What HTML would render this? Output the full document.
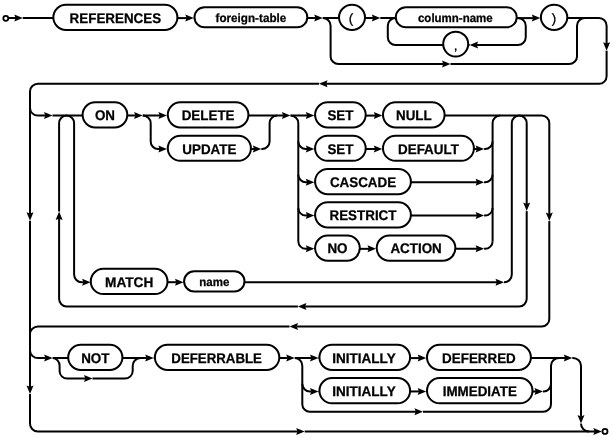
<!DOCTYPE html>
<html><head><meta charset="utf-8"><title>foreign-key-clause</title>
<style>
html,body{margin:0;padding:0;background:#fff;}
svg{display:block}
path{fill:none;stroke:#000;stroke-width:2.0;stroke-linecap:butt;stroke-linejoin:round}
.b{fill:#fff;stroke:#000;stroke-width:2.0}
.a{fill:#000;stroke:none}
.m{fill:#fff;stroke:none}
.p{font-weight:normal;stroke:#000;stroke-width:.3}
text{text-rendering:geometricPrecision;font-family:"Liberation Sans",sans-serif;font-weight:bold;text-anchor:middle;fill:#000;stroke:#000;stroke-width:.25}
</style></head><body>
<svg width="613" height="438" viewBox="0 0 613 438" style="will-change:transform;transform:translateZ(0);filter:blur(0.25px)">
<rect x="0" y="0" width="613" height="438" fill="#fff"/>
<path d="M8.50 18.10H54.00"/>
<path d="M177.40 18.10H194.50"/>
<path d="M307.30 18.10H340.00"/>
<path d="M322.70 18.10A7.90 7.60 0 0 1 330.60 25.70V56.40A8.00 7.60 0 0 0 338.60 64.00H569.00A8.00 7.60 0 0 0 577.00 56.40V25.70A8.00 7.60 0 0 1 585.00 18.10"/>
<path d="M364.60 18.10H396.50"/>
<path d="M516.70 18.10H541.00"/>
<path d="M517.80 18.10A7.95 7.60 0 0 1 525.75 25.70V37.30A7.95 7.60 0 0 1 517.80 44.90H468.20"/>
<path d="M443.20 44.90H395.60A7.80 7.60 0 0 1 387.80 37.30V25.70A7.80 7.60 0 0 1 395.60 18.10"/>
<path d="M567.30 18.10H599.00A7.60 7.60 0 0 1 606.60 25.70V76.25A7.60 7.60 0 0 1 599.00 83.85H38.00A8.00 7.60 0 0 0 30.00 91.45V423.85A8.00 7.60 0 0 0 38.00 431.45H602.50"/>
<path d="M30.00 108.00A8.00 7.60 0 0 0 38.00 115.60H83.00"/>
<path d="M127.30 115.60H168.00"/>
<path d="M142.60 115.60A8.10 7.60 0 0 1 150.70 123.20V141.40A7.30 7.60 0 0 0 158.00 149.00H168.00"/>
<path d="M248.30 115.60H315.50"/>
<path d="M251.30 149.00H262.00A7.60 7.60 0 0 0 269.60 141.40V123.20A7.60 7.60 0 0 1 277.20 115.60"/>
<path d="M290.40 115.60A7.90 7.60 0 0 1 298.30 123.20V241.25A7.60 7.60 0 0 0 305.90 248.85H315.50"/>
<path d="M298.30 141.40A7.60 7.60 0 0 0 305.90 149.00H315.50"/>
<path d="M298.30 174.70A7.60 7.60 0 0 0 305.90 182.30H315.50"/>
<path d="M298.30 208.00A7.60 7.60 0 0 0 305.90 215.60H315.50"/>
<path d="M365.30 115.60H383.00"/>
<path d="M365.30 149.00H383.00"/>
<path d="M359.80 248.85H378.00"/>
<path d="M473.90 149.00H485.00A7.60 7.60 0 0 0 492.60 141.40"/>
<path d="M410.90 182.30H485.00A7.60 7.60 0 0 0 492.60 174.70"/>
<path d="M410.90 215.60H485.00A7.60 7.60 0 0 0 492.60 208.00"/>
<path d="M455.40 248.85H485.00A7.60 7.60 0 0 0 492.60 241.25"/>
<path d="M492.60 241.25V123.20A7.60 7.60 0 0 1 500.20 115.60"/>
<path d="M444.60 115.60H541.70A7.60 7.60 0 0 1 549.30 123.20V318.90A7.60 7.60 0 0 1 541.70 326.50H38.00A8.00 7.60 0 0 0 30.00 334.10"/>
<path d="M519.10 115.60A7.60 7.60 0 0 1 526.70 123.20V298.80A7.60 7.60 0 0 1 519.10 306.40H66.70A7.60 7.60 0 0 1 59.10 298.80V123.20A7.60 7.60 0 0 1 66.70 115.60"/>
<path d="M66.50 115.60A7.60 7.60 0 0 1 74.10 123.20V274.60A7.60 7.60 0 0 0 81.70 282.20H92.00"/>
<path d="M167.30 282.20H185.00"/>
<path d="M244.50 282.20H504.20A7.60 7.60 0 0 0 511.80 274.60V123.20A7.60 7.60 0 0 1 519.40 115.60"/>
<path d="M30.00 350.50A8.00 7.60 0 0 0 38.00 358.10H69.00"/>
<path d="M122.40 358.10H155.50"/>
<path d="M52.60 358.10A7.00 7.60 0 0 1 59.60 365.70V371.00A7.60 7.60 0 0 0 67.20 378.60H124.70A8.00 7.60 0 0 0 132.70 371.00V365.70A8.00 7.60 0 0 1 140.70 358.10"/>
<path d="M279.30 358.10H320.00"/>
<path d="M294.70 358.10A7.60 7.60 0 0 1 302.30 365.70V404.20A7.60 7.60 0 0 0 309.90 411.80H543.00A8.00 7.60 0 0 0 551.00 404.20V365.70A8.00 7.60 0 0 1 559.00 358.10"/>
<path d="M302.30 383.85A7.60 7.60 0 0 0 309.90 391.45H320.00"/>
<path d="M409.80 358.10H428.00"/>
<path d="M409.80 391.45H428.00"/>
<path d="M532.50 391.45H543.50A7.50 7.60 0 0 0 551.00 383.85"/>
<path d="M530.90 358.10H573.00A8.00 7.60 0 0 1 581.00 365.70V423.85A8.00 7.60 0 0 0 589.00 431.45"/>
<rect class="m" x="15.90" y="16.50" width="6.90" height="3.20"/>
<rect class="m" x="186.90" y="16.50" width="6.90" height="3.20"/>
<rect class="m" x="315.80" y="16.50" width="6.90" height="3.20"/>
<rect class="m" x="443.60" y="62.40" width="6.90" height="3.20"/>
<rect class="m" x="373.40" y="16.50" width="6.90" height="3.20"/>
<rect class="m" x="533.40" y="16.50" width="6.90" height="3.20"/>
<rect class="m" x="469.60" y="43.30" width="6.90" height="3.20"/>
<rect class="m" x="605.00" y="43.80" width="3.20" height="6.90"/>
<rect class="m" x="319.00" y="82.25" width="6.90" height="3.20"/>
<rect class="m" x="28.40" y="213.90" width="3.20" height="6.90"/>
<rect class="m" x="28.40" y="387.10" width="3.20" height="6.90"/>
<rect class="m" x="297.80" y="429.85" width="6.90" height="3.20"/>
<rect class="m" x="45.60" y="114.00" width="6.90" height="3.20"/>
<rect class="m" x="135.70" y="114.00" width="6.90" height="3.20"/>
<rect class="m" x="160.00" y="114.00" width="6.90" height="3.20"/>
<rect class="m" x="160.00" y="147.40" width="6.90" height="3.20"/>
<rect class="m" x="283.50" y="114.00" width="6.90" height="3.20"/>
<rect class="m" x="307.40" y="114.00" width="6.90" height="3.20"/>
<rect class="m" x="254.40" y="147.40" width="6.90" height="3.20"/>
<rect class="m" x="307.40" y="147.40" width="6.90" height="3.20"/>
<rect class="m" x="307.40" y="180.70" width="6.90" height="3.20"/>
<rect class="m" x="307.40" y="214.00" width="6.90" height="3.20"/>
<rect class="m" x="307.40" y="247.25" width="6.90" height="3.20"/>
<rect class="m" x="375.40" y="114.00" width="6.90" height="3.20"/>
<rect class="m" x="375.40" y="147.40" width="6.90" height="3.20"/>
<rect class="m" x="369.10" y="247.25" width="6.90" height="3.20"/>
<rect class="m" x="477.20" y="147.40" width="6.90" height="3.20"/>
<rect class="m" x="477.20" y="180.70" width="6.90" height="3.20"/>
<rect class="m" x="477.20" y="214.00" width="6.90" height="3.20"/>
<rect class="m" x="477.20" y="247.25" width="6.90" height="3.20"/>
<rect class="m" x="547.70" y="214.20" width="3.20" height="6.90"/>
<rect class="m" x="289.50" y="324.90" width="6.90" height="3.20"/>
<rect class="m" x="525.10" y="204.20" width="3.20" height="6.90"/>
<rect class="m" x="297.90" y="304.80" width="6.90" height="3.20"/>
<rect class="m" x="57.50" y="211.50" width="3.20" height="6.90"/>
<rect class="m" x="83.70" y="280.60" width="6.90" height="3.20"/>
<rect class="m" x="176.60" y="280.60" width="6.90" height="3.20"/>
<rect class="m" x="497.10" y="280.60" width="6.90" height="3.20"/>
<rect class="m" x="45.70" y="356.50" width="6.90" height="3.20"/>
<rect class="m" x="146.80" y="356.50" width="6.90" height="3.20"/>
<rect class="m" x="85.60" y="377.00" width="6.90" height="3.20"/>
<rect class="m" x="287.80" y="356.50" width="6.90" height="3.20"/>
<rect class="m" x="311.60" y="356.50" width="6.90" height="3.20"/>
<rect class="m" x="416.10" y="410.20" width="6.90" height="3.20"/>
<rect class="m" x="311.60" y="389.85" width="6.90" height="3.20"/>
<rect class="m" x="419.30" y="356.50" width="6.90" height="3.20"/>
<rect class="m" x="419.30" y="389.85" width="6.90" height="3.20"/>
<rect class="m" x="536.10" y="389.85" width="6.90" height="3.20"/>
<rect class="m" x="565.40" y="356.50" width="6.90" height="3.20"/>
<rect class="m" x="579.40" y="416.70" width="3.20" height="6.90"/>
<rect class="m" x="594.90" y="429.85" width="6.90" height="3.20"/>
<polygon class="a" points="22.80,18.10 14.30,14.60 15.60,18.10 14.30,21.60"/>
<polygon class="a" points="193.80,18.10 185.30,14.60 186.60,18.10 185.30,21.60"/>
<polygon class="a" points="322.70,18.10 314.20,14.60 315.50,18.10 314.20,21.60"/>
<polygon class="a" points="450.50,64.00 442.00,60.50 443.30,64.00 442.00,67.50"/>
<polygon class="a" points="380.30,18.10 371.80,14.60 373.10,18.10 371.80,21.60"/>
<polygon class="a" points="540.30,18.10 531.80,14.60 533.10,18.10 531.80,21.60"/>
<polygon class="a" points="469.60,44.90 478.10,41.40 476.80,44.90 478.10,48.40"/>
<polygon class="a" points="606.60,50.70 603.10,42.20 606.60,43.50 610.10,42.20"/>
<polygon class="a" points="319.00,83.85 327.50,80.35 326.20,83.85 327.50,87.35"/>
<polygon class="a" points="30.00,220.80 26.50,212.30 30.00,213.60 33.50,212.30"/>
<polygon class="a" points="30.00,394.00 26.50,385.50 30.00,386.80 33.50,385.50"/>
<polygon class="a" points="304.70,431.45 296.20,427.95 297.50,431.45 296.20,434.95"/>
<polygon class="a" points="52.50,115.60 44.00,112.10 45.30,115.60 44.00,119.10"/>
<polygon class="a" points="142.60,115.60 134.10,112.10 135.40,115.60 134.10,119.10"/>
<polygon class="a" points="166.90,115.60 158.40,112.10 159.70,115.60 158.40,119.10"/>
<polygon class="a" points="166.90,149.00 158.40,145.50 159.70,149.00 158.40,152.50"/>
<polygon class="a" points="290.40,115.60 281.90,112.10 283.20,115.60 281.90,119.10"/>
<polygon class="a" points="314.30,115.60 305.80,112.10 307.10,115.60 305.80,119.10"/>
<polygon class="a" points="261.30,149.00 252.80,145.50 254.10,149.00 252.80,152.50"/>
<polygon class="a" points="314.30,149.00 305.80,145.50 307.10,149.00 305.80,152.50"/>
<polygon class="a" points="314.30,182.30 305.80,178.80 307.10,182.30 305.80,185.80"/>
<polygon class="a" points="314.30,215.60 305.80,212.10 307.10,215.60 305.80,219.10"/>
<polygon class="a" points="314.30,248.85 305.80,245.35 307.10,248.85 305.80,252.35"/>
<polygon class="a" points="382.30,115.60 373.80,112.10 375.10,115.60 373.80,119.10"/>
<polygon class="a" points="382.30,149.00 373.80,145.50 375.10,149.00 373.80,152.50"/>
<polygon class="a" points="376.00,248.85 367.50,245.35 368.80,248.85 367.50,252.35"/>
<polygon class="a" points="484.10,149.00 475.60,145.50 476.90,149.00 475.60,152.50"/>
<polygon class="a" points="484.10,182.30 475.60,178.80 476.90,182.30 475.60,185.80"/>
<polygon class="a" points="484.10,215.60 475.60,212.10 476.90,215.60 475.60,219.10"/>
<polygon class="a" points="484.10,248.85 475.60,245.35 476.90,248.85 475.60,252.35"/>
<polygon class="a" points="549.30,221.10 545.80,212.60 549.30,213.90 552.80,212.60"/>
<polygon class="a" points="289.50,326.50 298.00,323.00 296.70,326.50 298.00,330.00"/>
<polygon class="a" points="526.70,211.10 523.20,202.60 526.70,203.90 530.20,202.60"/>
<polygon class="a" points="297.90,306.40 306.40,302.90 305.10,306.40 306.40,309.90"/>
<polygon class="a" points="59.10,211.50 55.60,220.00 59.10,218.70 62.60,220.00"/>
<polygon class="a" points="90.60,282.20 82.10,278.70 83.40,282.20 82.10,285.70"/>
<polygon class="a" points="183.50,282.20 175.00,278.70 176.30,282.20 175.00,285.70"/>
<polygon class="a" points="504.00,282.20 495.50,278.70 496.80,282.20 495.50,285.70"/>
<polygon class="a" points="52.60,358.10 44.10,354.60 45.40,358.10 44.10,361.60"/>
<polygon class="a" points="153.70,358.10 145.20,354.60 146.50,358.10 145.20,361.60"/>
<polygon class="a" points="92.50,378.60 84.00,375.10 85.30,378.60 84.00,382.10"/>
<polygon class="a" points="294.70,358.10 286.20,354.60 287.50,358.10 286.20,361.60"/>
<polygon class="a" points="318.50,358.10 310.00,354.60 311.30,358.10 310.00,361.60"/>
<polygon class="a" points="423.00,411.80 414.50,408.30 415.80,411.80 414.50,415.30"/>
<polygon class="a" points="318.50,391.45 310.00,387.95 311.30,391.45 310.00,394.95"/>
<polygon class="a" points="426.20,358.10 417.70,354.60 419.00,358.10 417.70,361.60"/>
<polygon class="a" points="426.20,391.45 417.70,387.95 419.00,391.45 417.70,394.95"/>
<polygon class="a" points="543.00,391.45 534.50,387.95 535.80,391.45 534.50,394.95"/>
<polygon class="a" points="572.30,358.10 563.80,354.60 565.10,358.10 563.80,361.60"/>
<polygon class="a" points="581.00,423.60 577.50,415.10 581.00,416.40 584.50,415.10"/>
<polygon class="a" points="601.80,431.45 593.30,427.95 594.60,431.45 593.30,434.95"/>
<circle cx="5.8" cy="18.3" r="2.5" class="b" style="stroke-width:1.8"/>
<rect x="53.35" y="4.75" width="124.05" height="25.2" rx="12.6" ry="12.6" class="b"/>
<text transform="translate(115.38 22.69) scale(1.0 1.04)" font-size="13.4">REFERENCES</text>
<rect x="194.50" y="7.15" width="112.80" height="20.2" rx="10.1" ry="10.1" class="b"/>
<text transform="translate(250.90 21.83) scale(1.015 1.04)" font-size="11.5">foreign-table</text>
<ellipse cx="352" cy="17.35" rx="13.0" ry="12.55" class="b"/>
<text class="p" x="351.10" y="22.65" font-size="13.4">(</text>
<rect x="395.80" y="7.15" width="120.90" height="20.2" rx="10.1" ry="10.1" class="b"/>
<text transform="translate(455.35 21.83) scale(1.0 1.04)" font-size="11.5">column-name</text>
<ellipse cx="455.7" cy="44.10" rx="12.5" ry="12.4" class="b"/>
<text class="p" x="455.70" y="50.40" font-size="13.4">,</text>
<ellipse cx="554.1" cy="17.35" rx="13.200000000000001" ry="12.55" class="b"/>
<text class="p" x="554.10" y="22.65" font-size="13.4">)</text>
<rect x="82.60" y="102.25" width="44.70" height="25.2" rx="12.6" ry="12.6" class="b"/>
<text transform="translate(104.95 120.19) scale(1.0 1.04)" font-size="13.4">ON</text>
<rect x="167.80" y="102.25" width="80.60" height="25.2" rx="12.6" ry="12.6" class="b"/>
<text transform="translate(208.10 120.19) scale(1.0 1.04)" font-size="13.4">DELETE</text>
<rect x="167.80" y="135.65" width="83.10" height="25.2" rx="12.6" ry="12.6" class="b"/>
<text transform="translate(209.35 153.59) scale(1.0 1.04)" font-size="13.4">UPDATE</text>
<rect x="315.10" y="102.25" width="50.60" height="25.2" rx="12.6" ry="12.6" class="b"/>
<text transform="translate(340.40 120.19) scale(1.0 1.04)" font-size="13.4">SET</text>
<rect x="383.00" y="102.25" width="61.60" height="25.2" rx="12.6" ry="12.6" class="b"/>
<text transform="translate(413.80 120.19) scale(1.0 1.04)" font-size="13.4">NULL</text>
<rect x="315.10" y="135.65" width="50.60" height="25.2" rx="12.6" ry="12.6" class="b"/>
<text transform="translate(340.40 153.59) scale(1.0 1.04)" font-size="13.4">SET</text>
<rect x="383.00" y="135.65" width="90.90" height="25.2" rx="12.6" ry="12.6" class="b"/>
<text transform="translate(428.45 153.59) scale(1.0 1.04)" font-size="13.4">DEFAULT</text>
<rect x="315.10" y="168.95" width="95.80" height="25.2" rx="12.6" ry="12.6" class="b"/>
<text transform="translate(363.00 186.89) scale(1.0 1.04)" font-size="13.4">CASCADE</text>
<rect x="315.10" y="202.25" width="95.80" height="25.2" rx="12.6" ry="12.6" class="b"/>
<text transform="translate(363.00 220.19) scale(1.0 1.04)" font-size="13.4">RESTRICT</text>
<rect x="315.10" y="235.50" width="44.70" height="25.2" rx="12.6" ry="12.6" class="b"/>
<text transform="translate(337.45 253.44) scale(1.0 1.04)" font-size="13.4">NO</text>
<rect x="376.70" y="235.50" width="78.70" height="25.2" rx="12.6" ry="12.6" class="b"/>
<text transform="translate(416.05 253.44) scale(1.0 1.04)" font-size="13.4">ACTION</text>
<rect x="90.80" y="268.85" width="76.70" height="25.2" rx="12.6" ry="12.6" class="b"/>
<text transform="translate(129.15 286.79) scale(1.02 1.04)" font-size="13.4">MATCH</text>
<rect x="184.10" y="271.25" width="60.40" height="20.2" rx="10.1" ry="10.1" class="b"/>
<text transform="translate(214.30 286.43) scale(1.0 1.04)" font-size="11.5">name</text>
<rect x="68.20" y="344.75" width="54.20" height="25.2" rx="12.6" ry="12.6" class="b"/>
<text transform="translate(95.30 362.69) scale(1.0 1.04)" font-size="13.4">NOT</text>
<rect x="154.90" y="344.75" width="124.40" height="25.2" rx="12.6" ry="12.6" class="b"/>
<text transform="translate(216.60 362.69) scale(0.99 1.04)" font-size="13.4">DEFERRABLE</text>
<rect x="319.45" y="344.75" width="90.65" height="25.2" rx="12.6" ry="12.6" class="b"/>
<text transform="translate(363.97 362.69) scale(1.01 1.04)" font-size="13.4">INITIALLY</text>
<rect x="427.00" y="344.75" width="103.90" height="25.2" rx="12.6" ry="12.6" class="b"/>
<text transform="translate(478.95 362.69) scale(1.0 1.04)" font-size="13.4">DEFERRED</text>
<rect x="319.45" y="378.10" width="90.65" height="25.2" rx="12.6" ry="12.6" class="b"/>
<text transform="translate(363.97 396.04) scale(1.01 1.04)" font-size="13.4">INITIALLY</text>
<rect x="427.00" y="378.10" width="105.50" height="25.2" rx="12.6" ry="12.6" class="b"/>
<text transform="translate(479.75 396.04) scale(1.0 1.04)" font-size="13.4">IMMEDIATE</text>
<circle cx="605" cy="431.45" r="2.5" class="b" style="stroke-width:1.8"/>
</svg>
</body></html>
